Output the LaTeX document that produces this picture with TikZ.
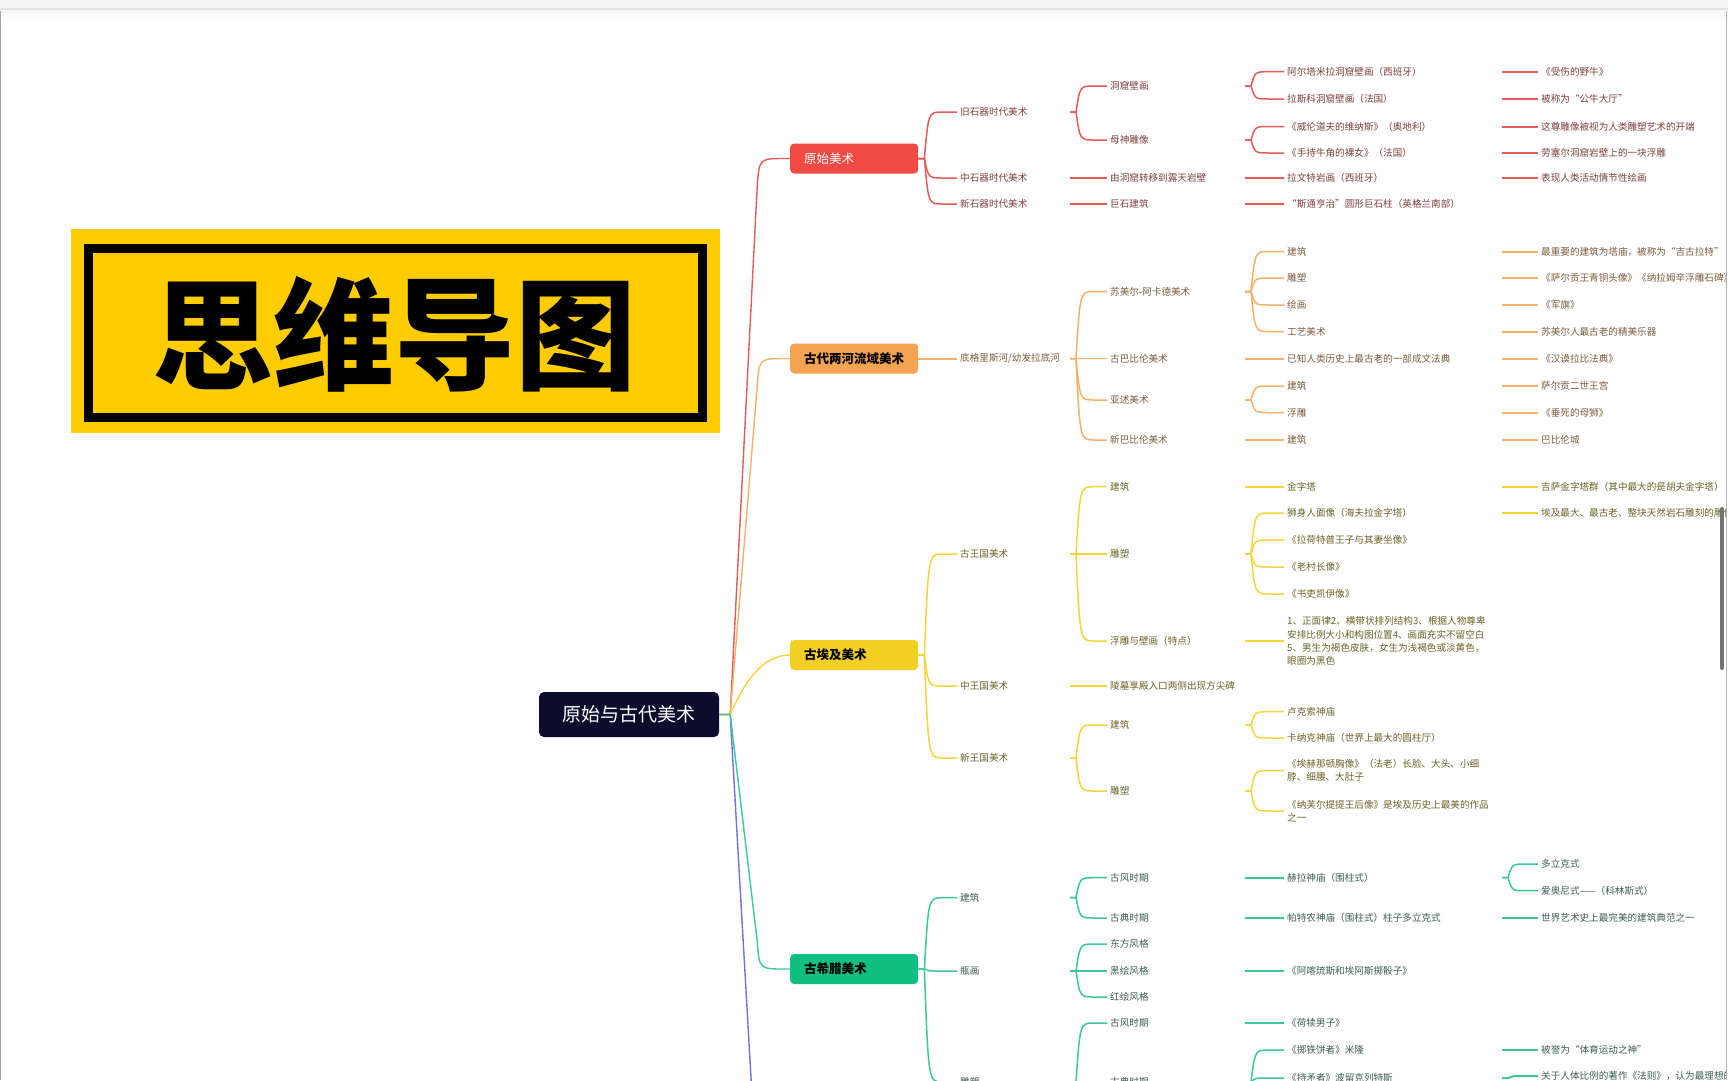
\documentclass[tikz,border=0pt]{standalone}
\usepackage{fontspec}
\setmainfont{Noto Sans CJK SC}
\usetikzlibrary{calc}
\definecolor{lnR}{HTML}{E35B5B}
\definecolor{bxR}{HTML}{F04A43}
\definecolor{txR}{HTML}{7E3F3F}
\definecolor{lnO}{HTML}{F6B06A}
\definecolor{bxO}{HTML}{F4A350}
\definecolor{txO}{HTML}{7B5C3E}
\definecolor{lnY}{HTML}{F4D43C}
\definecolor{bxY}{HTML}{F2D023}
\definecolor{txY}{HTML}{6B6328}
\definecolor{lnG}{HTML}{3CC89A}
\definecolor{bxG}{HTML}{12BF82}
\definecolor{txG}{HTML}{3E5E51}
\definecolor{lnB}{HTML}{6C74E4}
\definecolor{navy}{HTML}{0E0C2C}
\definecolor{ttl}{HTML}{FFCC00}
\tikzset{
  fork/.style={to path={let \p1=(\tikztostart), \p2=(\tikztotarget) in -- (\x1+6,\y1) .. controls (\x1+10,\y2) .. (\x1+24,\y2) -- (\tikztotarget)}},
  mainbr/.style={to path={let \p1=(\tikztostart), \p2=(\tikztotarget), \n1={28*sign(\y1-\y2)} in -- (\x1+11,\y1) -- (\x1+38,\y2+\n1) .. controls (\x1+40,\y2) .. (\x1+66,\y2) -- (\tikztotarget)}},
  txt/.style={anchor=west, inner xsep=3pt, inner ysep=1pt, font=\fontsize{9.6}{13.2}\selectfont, align=left},
  tR/.style={txt, text=txR}, tO/.style={txt, text=txO}, tY/.style={txt, text=txY}, tG/.style={txt, text=txG},
  box/.style={anchor=west, minimum height=30pt, text width=100pt, inner xsep=14pt, inner ysep=0pt, rounded corners=4pt, align=left, font=\fontsize{12.5}{14}\selectfont\bfseries, text=black},
  lR/.style={draw=lnR, line width=1.5pt}, lO/.style={draw=lnO, line width=1.5pt},
  lY/.style={draw=lnY, line width=1.5pt}, lG/.style={draw=lnG, line width=1.5pt},
  thk/.style={line width=2pt},
}
\begin{document}
\begin{tikzpicture}[x=1pt,y=-1pt]
\useasboundingbox (0,0) rectangle (1728,1080);
\fill[white] (0,0) rectangle (1728,1080);
% window chrome
\fill[black!4] (0,0) rectangle (1728,8);
\fill[black!11] (0,8) rectangle (1728,10.5);
\shade[top color=black!3, bottom color=white] (0,10.5) rectangle (1728,22);
\draw[black!35, line width=1pt] (0.5,10.5) -- (0.5,1080);
\draw[black!30, line width=1pt] (1726,10.5) -- (1726,1080);

% title
\fill[ttl] (70.5,229) rectangle (719.5,433);
\draw[black, line width=9pt] (88,248) rectangle (702,417.5);
\node[font=\fontsize{121}{121}\selectfont\bfseries, inner sep=0pt] (title) at (394,334) {思维导图};

\begin{scope}
\clip (1,10.5) rectangle (1725.5,1080);
% columns
\coordinate (cB) at (1070,0);
\coordinate (cC) at (1245,0);
\coordinate (cD) at (1502,0);
\coordinate (blueEnd) at (752,1095);

% root
\node[fill=navy, rounded corners=5pt, minimum width=180pt, minimum height=45pt, text=white, font=\fontsize{19}{20}\selectfont, inner sep=0pt] (root) at (629,714.5) {原始与古代美术};

% level 1 boxes
\node[box, fill=bxR, text=white, font=\fontsize{12.5}{14}\selectfont] (R) at (790,158.5) {原始美术};
\node[box, fill=bxO] (O) at (790,358.5) {古代两河流域美术};
\node[box, fill=bxY] (Y) at (790,655) {古埃及美术};
\node[box, fill=bxG] (G) at (790,969) {古希腊美术};

% ---------------- red
\node[tR] (r1) at (957,112) {旧石器时代美术};
\node[tR] (r2) at (957,178) {中石器时代美术};
\node[tR] (r3) at (957,204) {新石器时代美术};
\node[tR] (r11) at (1107,86) {洞窟壁画};
\node[tR] (r12) at (1107,140) {母神雕像};
\node[tR] (r21) at (1107,178) {由洞窟转移到露天岩壁};
\node[tR] (r31) at (1107,204) {巨石建筑};
\node[tR] (r111) at (1284,71.7) {阿尔塔米拉洞窟壁画（西班牙）};
\node[tR] (r112) at (1284,99) {拉斯科洞窟壁画（法国）};
\node[tR] (r121) at (1284,126.5) {《威伦道夫的维纳斯》（奥地利）};
\node[tR] (r122) at (1284,153) {《手持牛角的裸女》（法国）};
\node[tR] (r211) at (1284,178) {拉文特岩画（西班牙）};
\node[tR] (r311) at (1284,204) {“斯通亨治”圆形巨石柱（英格兰南部）};
\node[tR] (r1111) at (1538,71.7) {《受伤的野牛》};
\node[tR] (r1121) at (1538,99) {被称为“公牛大厅”};
\node[tR] (r1211) at (1538,126.5) {这尊雕像被视为人类雕塑艺术的开端};
\node[tR] (r1221) at (1538,153) {劳塞尔洞窟岩壁上的一块浮雕};
\node[tR] (r2111) at (1538,178) {表现人类活动情节性绘画};

% ---------------- orange
\node[tO] (o1) at (957,358.5) {底格里斯河/幼发拉底河};
\node[tO] (o11) at (1107,291.5) {苏美尔-阿卡德美术};
\node[tO] (o12) at (1107,358.5) {古巴比伦美术};
\node[tO] (o13) at (1107,400) {亚述美术};
\node[tO] (o14) at (1107,440) {新巴比伦美术};
\node[tO] (o111) at (1284,251.5) {建筑};
\node[tO] (o112) at (1284,278) {雕塑};
\node[tO] (o113) at (1284,305) {绘画};
\node[tO] (o114) at (1284,331.5) {工艺美术};
\node[tO] (o121) at (1284,358.5) {已知人类历史上最古老的一部成文法典};
\node[tO] (o131) at (1284,386) {建筑};
\node[tO] (o132) at (1284,412.5) {浮雕};
\node[tO] (o141) at (1284,440) {建筑};
\node[tO] (o1111) at (1538,251.5) {最重要的建筑为塔庙，被称为“吉古拉特”};
\node[tO] (o1121) at (1538,278) {《萨尔贡王青铜头像》《纳拉姆辛浮雕石碑》};
\node[tO] (o1131) at (1538,305) {《军旗》};
\node[tO] (o1141) at (1538,331.5) {苏美尔人最古老的精美乐器};
\node[tO] (o1211) at (1538,358.5) {《汉谟拉比法典》};
\node[tO] (o1311) at (1538,386) {萨尔贡二世王宫};
\node[tO] (o1321) at (1538,412.5) {《垂死的母狮》};
\node[tO] (o1411) at (1538,440) {巴比伦城};

% ---------------- yellow
\node[tY] (y1) at (957,554) {古王国美术};
\node[tY] (y2) at (957,686) {中王国美术};
\node[tY] (y3) at (957,758) {新王国美术};
\node[tY] (y11) at (1107,486.7) {建筑};
\node[tY] (y12) at (1107,554) {雕塑};
\node[tY] (y13) at (1107,641) {浮雕与壁画（特点）};
\node[tY] (y21) at (1107,686) {陵墓享殿入口两侧出现方尖碑};
\node[tY] (y31) at (1107,725) {建筑};
\node[tY] (y32) at (1107,791) {雕塑};
\node[tY] (y111) at (1284,486.7) {金字塔};
\node[tY] (y121) at (1284,513) {狮身人面像（海夫拉金字塔）};
\node[tY] (y122) at (1284,540) {《拉荷特普王子与其妻坐像》};
\node[tY] (y123) at (1284,567) {《老村长像》};
\node[tY] (y124) at (1284,594) {《书吏凯伊像》};
\node[tY] (y131) at (1284,641) {1、正面律2、横带状排列结构3、根据人物尊卑\\安排比例大小和构图位置4、画面充实不留空白\\5、男生为褐色皮肤，女生为浅褐色或淡黄色，\\眼圈为黑色};
\node[tY] (y311) at (1284,711.7) {卢克索神庙};
\node[tY] (y312) at (1284,738) {卡纳克神庙（世界上最大的圆柱厅）};
\node[tY] (y321) at (1284,770.5) {《埃赫那顿胸像》（法老）长脸、大头、小细\\脖、细腰、大肚子};
\node[tY] (y322) at (1284,811) {《纳芙尔提提王后像》是埃及历史上最美的作品\\之一};
\node[tY] (y1111) at (1538,486.7) {吉萨金字塔群（其中最大的是胡夫金字塔）};
\node[tY] (y1211) at (1538,513) {埃及最大、最古老、整块天然岩石雕刻的雕像};

% ---------------- green
\node[tG] (g1) at (957,897.7) {建筑};
\node[tG] (g2) at (957,971) {瓶画};
\node[tG] (g3) at (957,1082) {雕塑};
\node[tG] (g11) at (1107,877.7) {古风时期};
\node[tG] (g12) at (1107,918) {古典时期};
\node[tG] (g21) at (1107,944) {东方风格};
\node[tG] (g22) at (1107,971) {黑绘风格};
\node[tG] (g23) at (1107,997) {红绘风格};
\node[tG] (g31) at (1107,1023) {古风时期};
\node[tG] (g32) at (1107,1082) {古典时期};
\node[tG] (g111) at (1284,877.7) {赫拉神庙（围柱式）};
\node[tG] (g121) at (1284,918) {帕特农神庙（围柱式）柱子多立克式};
\node[tG] (g221) at (1284,971) {《阿喀琉斯和埃阿斯掷骰子》};
\node[tG] (g311) at (1284,1023) {《荷犊男子》};
\node[tG] (g321) at (1284,1050) {《掷铁饼者》米隆};
\node[tG] (g322) at (1284,1078) {《持矛者》波留克列特斯};
\node[tG] (g1111) at (1538,864) {多立克式};
\node[tG] (g1112) at (1538,890.7) {爱奥尼式——（科林斯式）};
\node[tG] (g1211) at (1538,918) {世界艺术史上最完美的建筑典范之一};
\node[tG] (g3211) at (1538,1050) {被誉为“体育运动之神”};
\node[tG] (g3221) at (1538,1076) {关于人体比例的著作《法则》，认为最理想的人体比例};

% ---------------- main branches
\draw[draw=lnB, line width=1.4pt] (root.east) -- ++(11,0) -- (blueEnd);
\draw[draw=lnR, line width=1.4pt] (root.east) to[mainbr] (R.west);
\draw[draw=lnO, line width=1.4pt] (root.east) to[mainbr] (O.west);
\draw[draw=lnY, line width=1.4pt] (root.east) -- ++(11,0) .. controls +(14,-32) and +(-28,0) .. (Y.west);
\draw[draw=lnG, line width=1.4pt] (root.east) to[mainbr] (G.west);

% ---------------- red connectors
\foreach \c in {r1,r2,r3} \draw[lR] (R.east) to[fork] (\c.west);
\draw[lR] (r1 -| cB) to[fork] (r11.west);
\draw[lR] (r1 -| cB) to[fork] (r12.west);
\draw[lR,thk] (r2 -| cB) to[fork] (r21.west);
\draw[lR,thk] (r3 -| cB) to[fork] (r31.west);
\draw[lR] (r11 -| cC) to[fork] (r111.west);
\draw[lR] (r11 -| cC) to[fork] (r112.west);
\draw[lR] (r12 -| cC) to[fork] (r121.west);
\draw[lR] (r12 -| cC) to[fork] (r122.west);
\draw[lR,thk] (r21 -| cC) to[fork] (r211.west);
\draw[lR,thk] (r31 -| cC) to[fork] (r311.west);
\draw[lR,thk] (r111 -| cD) to[fork] (r1111.west);
\draw[lR,thk] (r112 -| cD) to[fork] (r1121.west);
\draw[lR,thk] (r121 -| cD) to[fork] (r1211.west);
\draw[lR,thk] (r122 -| cD) to[fork] (r1221.west);
\draw[lR,thk] (r211 -| cD) to[fork] (r2111.west);

% ---------------- orange connectors
\draw[lO,thk] (O.east) to[fork] (o1.west);
\foreach \c in {o11,o12,o13,o14} \draw[lO] (o1 -| cB) to[fork] (\c.west);
\foreach \c in {o111,o112,o113,o114} \draw[lO] (o11 -| cC) to[fork] (\c.west);
\draw[lO,thk] (o12 -| cC) to[fork] (o121.west);
\draw[lO] (o13 -| cC) to[fork] (o131.west);
\draw[lO] (o13 -| cC) to[fork] (o132.west);
\draw[lO,thk] (o14 -| cC) to[fork] (o141.west);
\draw[lO,thk] (o111 -| cD) to[fork] (o1111.west);
\draw[lO,thk] (o112 -| cD) to[fork] (o1121.west);
\draw[lO,thk] (o113 -| cD) to[fork] (o1131.west);
\draw[lO,thk] (o114 -| cD) to[fork] (o1141.west);
\draw[lO,thk] (o121 -| cD) to[fork] (o1211.west);
\draw[lO,thk] (o131 -| cD) to[fork] (o1311.west);
\draw[lO,thk] (o132 -| cD) to[fork] (o1321.west);
\draw[lO,thk] (o141 -| cD) to[fork] (o1411.west);

% ---------------- yellow connectors
\foreach \c in {y1,y2,y3} \draw[lY] (Y.east) to[fork] (\c.west);
\foreach \c in {y11,y12,y13} \draw[lY] (y1 -| cB) to[fork] (\c.west);
\draw[lY,thk] (y2 -| cB) to[fork] (y21.west);
\foreach \c in {y31,y32} \draw[lY] (y3 -| cB) to[fork] (\c.west);
\draw[lY,thk] (y11 -| cC) to[fork] (y111.west);
\foreach \c in {y121,y122,y123,y124} \draw[lY] (y12 -| cC) to[fork] (\c.west);
\draw[lY,thk] (y13 -| cC) to[fork] (y131.west);
\foreach \c in {y311,y312} \draw[lY] (y31 -| cC) to[fork] (\c.west);
\foreach \c in {y321,y322} \draw[lY] (y32 -| cC) to[fork] (\c.west);
\draw[lY,thk] (y111 -| cD) to[fork] (y1111.west);
\draw[lY,thk] (y121 -| cD) to[fork] (y1211.west);

% ---------------- green connectors
\foreach \c in {g1,g2,g3} \draw[lG] (G.east) to[fork] (\c.west);
\foreach \c in {g11,g12} \draw[lG] (g1 -| cB) to[fork] (\c.west);
\foreach \c in {g21,g22,g23} \draw[lG] (g2 -| cB) to[fork] (\c.west);
\foreach \c in {g31,g32} \draw[lG] (g3 -| cB) to[fork] (\c.west);
\draw[lG,thk] (g11 -| cC) to[fork] (g111.west);
\draw[lG,thk] (g12 -| cC) to[fork] (g121.west);
\draw[lG,thk] (g22 -| cC) to[fork] (g221.west);
\draw[lG,thk] (g31 -| cC) to[fork] (g311.west);
\foreach \c in {g321,g322} \draw[lG] (g32 -| cC) to[fork] (\c.west);
\foreach \c in {g1111,g1112} \draw[lG] (g111 -| cD) to[fork] (\c.west);
\draw[lG,thk] (g121 -| cD) to[fork] (g1211.west);
\draw[lG,thk] (g321 -| cD) to[fork] (g3211.west);
\draw[lG,thk] (g322 -| cD) to[fork] (g3221.west);
\end{scope}

% scrollbar
\draw[black!55, line width=4pt, line cap=round] (1722,509) -- (1722,668);
\end{tikzpicture}
\end{document}
